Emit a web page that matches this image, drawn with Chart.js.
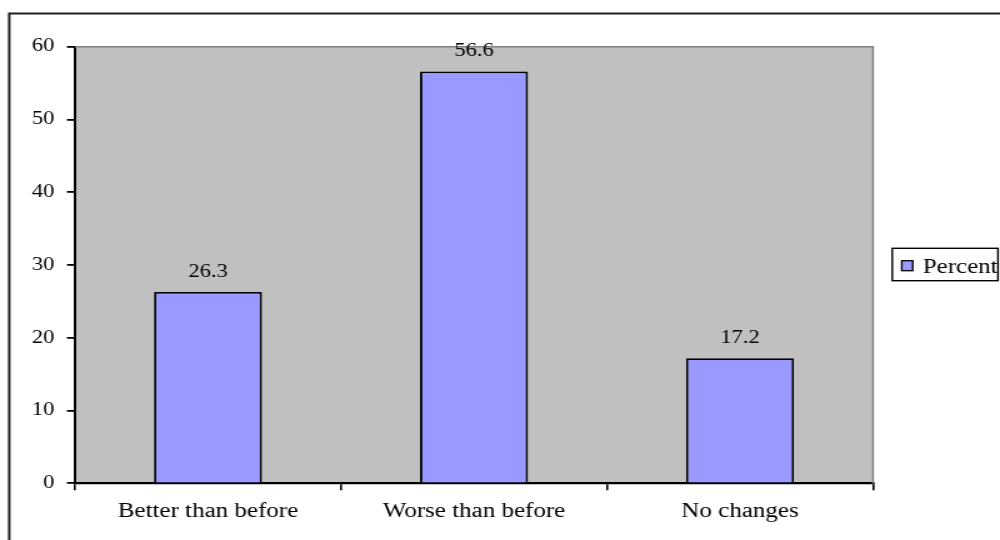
<!DOCTYPE html>
<html>
<head>
<meta charset="utf-8">
<style>
  html, body { margin: 0; padding: 0; background: #fff; overflow: hidden; }
  /* the chart is laid out on an 800px canvas and widened to the full 1000px */
  #wrap { width: 800px; height: 540px; transform: scaleX(1.25); transform-origin: 0 0; }
  canvas { display: block; }
</style>
<script src="https://cdn.jsdelivr.net/npm/chart.js@4/dist/chart.umd.min.js"></script>
</head>
<body>
<div id="wrap"><canvas id="c" width="800" height="540"></canvas></div>
<script>
const categories = ['Better than before', 'Worse than before', 'No changes'];
const percentValues = [26.3, 56.6, 17.2];
const yTickValues = [0, 10, 20, 30, 40, 50, 60];
const seriesName = 'Percent';

const SERIF = '"Liberation Serif", "Times New Roman", serif';
const BAR_FILL = '#9999FF';
const PLOT_FILL = '#C0C0C0';

// white page, outer frame and grey plot area
const frameAndPlot = {
  id: 'frameAndPlot',
  beforeDraw(chart) {
    const { ctx, chartArea: a } = chart;
    ctx.save();
    ctx.fillStyle = '#fff';
    ctx.fillRect(0, 0, chart.width, chart.height);
    ctx.strokeStyle = '#202020';
    ctx.lineWidth = 2;
    ctx.strokeRect(7.4, 13.5, 900, 600);
    ctx.fillStyle = PLOT_FILL;
    ctx.fillRect(a.left, a.top, a.right - a.left, a.bottom - a.top);
    ctx.restore();
  },
  beforeDatasetsDraw(chart) {
    const { ctx, chartArea: a } = chart;
    ctx.save();
    ctx.strokeStyle = '#808080';
    ctx.lineWidth = 1.5;
    ctx.beginPath();
    ctx.moveTo(a.left, a.top);
    ctx.lineTo(a.right, a.top);
    ctx.lineTo(a.right, a.bottom);
    ctx.stroke();
    ctx.restore();
  }
};

// value labels above each bar
const valueLabels = {
  id: 'valueLabels',
  afterDatasetsDraw(chart) {
    const { ctx } = chart;
    const meta = chart.getDatasetMeta(0);
    const values = chart.data.datasets[0].data;
    ctx.save();
    ctx.font = '18px ' + SERIF;
    ctx.fillStyle = '#000';
    ctx.textAlign = 'center';
    ctx.textBaseline = 'alphabetic';
    meta.data.forEach((bar, i) => {
      ctx.fillText(String(values[i]), bar.x, bar.y - 15);
    });
    ctx.restore();
  }
};

// boxed legend to the right of the plot
const boxedLegend = {
  id: 'boxedLegend',
  afterDraw(chart) {
    const { ctx, chartArea: a } = chart;
    const ds = chart.data.datasets[0];
    const x = a.right + 15.4, y = 248.3, w = 84.6, h = 32.4;
    ctx.save();
    ctx.fillStyle = '#fff';
    ctx.fillRect(x, y, w, h);
    ctx.strokeStyle = '#000';
    ctx.lineWidth = 1.4;
    ctx.strokeRect(x, y, w, h);
    ctx.fillStyle = ds.backgroundColor;
    ctx.fillRect(x + 7.6, y + 12.4, 8.8, 10);
    ctx.lineWidth = 1.3;
    ctx.strokeRect(x + 7.6, y + 12.4, 8.8, 10);
    ctx.fillStyle = '#000';
    ctx.font = '20px ' + SERIF;
    ctx.textBaseline = 'alphabetic';
    ctx.fillText(ds.label, x + 24.4, y + 25);
    ctx.restore();
  }
};

new Chart(document.getElementById('c'), {
  type: 'bar',
  data: {
    labels: categories,
    datasets: [{
      label: seriesName,
      data: percentValues,
      backgroundColor: BAR_FILL,
      borderColor: '#000',
      borderWidth: 1.9,
      barPercentage: 0.406,
      categoryPercentage: 1.0
    }]
  },
  options: {
    responsive: false,
    animation: false,
    devicePixelRatio: 1,
    layout: { padding: { top: 46.7, right: 101.6, bottom: 0, left: 0 } },
    plugins: {
      legend: { display: false },
      tooltip: { enabled: false }
    },
    scales: {
      x: {
        afterFit(scale) { scale.height = 56.7; },
        border: { display: true, color: '#000', width: 2.2 },
        grid: { offset: true, drawOnChartArea: false, drawTicks: true, tickLength: 7, color: '#000', lineWidth: 1.6 },
        ticks: { color: '#000', font: { family: SERIF, size: 20 }, padding: 9, maxRotation: 0 }
      },
      y: {
        min: 0,
        max: 60,
        afterFit(scale) { scale.width = 60; },
        afterBuildTicks(scale) { scale.ticks = yTickValues.map(v => ({ value: v })); },
        border: { display: true, color: '#000', width: 2 },
        grid: { drawOnChartArea: false, drawTicks: true, tickLength: 6.4, color: '#000', lineWidth: 1.8 },
        ticks: { color: '#000', font: { family: SERIF, size: 18 }, padding: 10 }
      }
    }
  },
  plugins: [frameAndPlot, valueLabels, boxedLegend]
});
</script>
</body>
</html>
